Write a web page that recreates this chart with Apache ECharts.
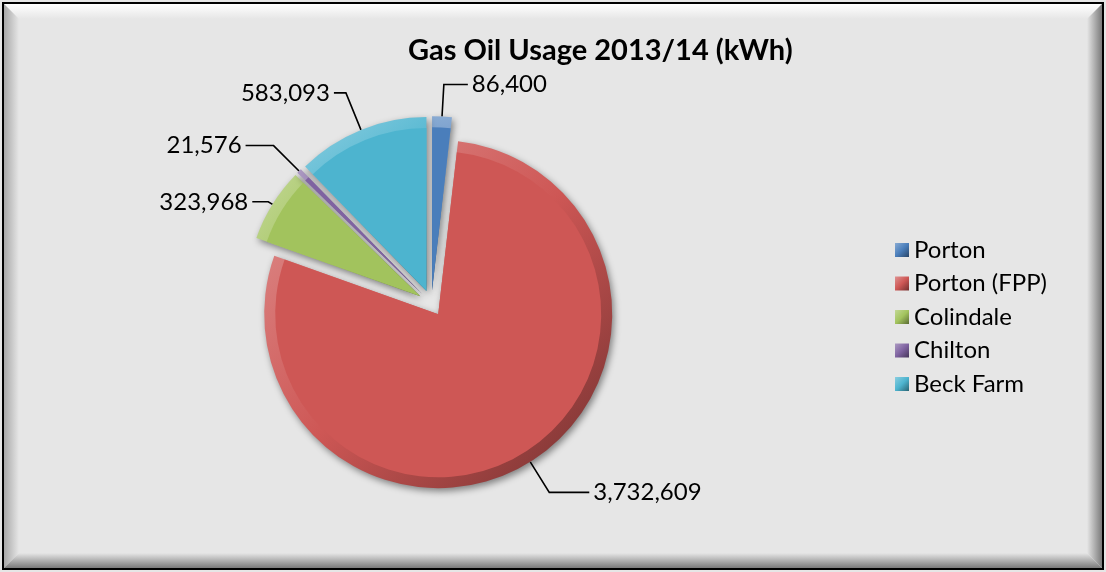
<!DOCTYPE html>
<html>
<head>
<meta charset="utf-8">
<script src="https://cdn.jsdelivr.net/npm/echarts@6/dist/echarts.min.js"></script>
<style>
  html, body { margin: 0; padding: 0; background: #ffffff; }
  #chart { width: 1106px; height: 572px; }
</style>
</head>
<body>
<div id="chart"></div>
<script>
// Gas oil usage by site, 2013/14 (kWh)
const sites = ['Porton', 'Porton (FPP)', 'Colindale', 'Chilton', 'Beck Farm'];
const usageKWh = [86400, 3732609, 323968, 21576, 583093];
const siteColors = ['#4a7ebb', '#ce5755', '#a2c35d', '#7f63a1', '#4db4cf'];

// Label leader line lengths per site (radial part, horizontal part)
const leaderLengths = {
  'Porton': [32, 24],
  'Porton (FPP)': [36, 40],
  'Colindale': [5, 16],
  'Chilton': [36, 28],
  'Beck Farm': [40, 12]
};

function shade(hex, amt) {
  const n = parseInt(hex.slice(1), 16);
  let r = (n >> 16) & 255, g = (n >> 8) & 255, b = n & 255;
  const f = c => amt >= 0 ? Math.round(c + (255 - c) * amt) : Math.round(c * (1 + amt));
  return 'rgb(' + f(r) + ',' + f(g) + ',' + f(b) + ')';
}

const fmt = v => v.toLocaleString('en-GB');

const FONT = 'Lato';
const centre = ['39%', '53%'];
const R = 174;
const explode = 13;

// Face of each slice (flat colour)
const faceData = sites.map((name, i) => ({
  name: name,
  value: usageKWh[i],
  selected: true,
  itemStyle: { color: siteColors[i] }
}));

// Bevelled rim of each slice (light top-left to dark bottom-right)
const rimData = sites.map((name, i) => ({
  name: name,
  value: usageKWh[i],
  selected: true,
  itemStyle: {
    color: new echarts.graphic.LinearGradient(0, 0, 1, 1, [
      { offset: 0, color: shade(siteColors[i], 0.35) },
      { offset: 0.5, color: siteColors[i] },
      { offset: 1, color: shade(siteColors[i], -0.45) }
    ])
  },
  labelLine: { length: leaderLengths[name][0], length2: leaderLengths[name][1] }
}));

const W = 1106, H = 572, B = 15;

const option = {
  backgroundColor: '#e6e6e6',
  animation: false,
  title: {
    text: 'Gas Oil Usage 2013/14 (kWh)',
    left: 403,
    top: 31,
    textStyle: { fontFamily: FONT, fontWeight: 'bold', fontSize: 29, color: '#000' }
  },
  legend: {
    orient: 'vertical',
    left: 890,
    top: 233,
    icon: 'rect',
    itemWidth: 14,
    itemHeight: 14,
    itemGap: 9.5,
    selectedMode: false,
    data: sites,
    textStyle: { fontFamily: FONT, fontSize: 24, color: '#000', lineHeight: 24 }
  },
  graphic: [
    { type: 'polygon', z: -1, silent: true,
      shape: { points: [[4, 4], [W - 4, 4], [W - 4 - B, 4 + B], [4 + B, 4 + B]] },
      style: { fill: new echarts.graphic.LinearGradient(0, 0, 0, 1, [
        { offset: 0, color: '#ffffff' }, { offset: 1, color: '#e6e6e6' }]) } },
    { type: 'polygon', z: -1, silent: true,
      shape: { points: [[4, 4], [4 + B, 4 + B], [4 + B, H - 4 - B], [4, H - 4]] },
      style: { fill: new echarts.graphic.LinearGradient(0, 0, 1, 0, [
        { offset: 0, color: '#a8a8a8' }, { offset: 1, color: '#e6e6e6' }]) } },
    { type: 'polygon', z: -1, silent: true,
      shape: { points: [[4, H - 4], [4 + B, H - 4 - B], [W - 4 - B, H - 4 - B], [W - 4, H - 4]] },
      style: { fill: new echarts.graphic.LinearGradient(0, 0, 0, 1, [
        { offset: 0, color: '#e6e6e6' }, { offset: 1, color: '#7a7a7a' }]) } },
    { type: 'polygon', z: -1, silent: true,
      shape: { points: [[W - 4, 4], [W - 4 - B, 4 + B], [W - 4 - B, H - 4 - B], [W - 4, H - 4]] },
      style: { fill: new echarts.graphic.LinearGradient(0, 0, 1, 0, [
        { offset: 0, color: '#e6e6e6' }, { offset: 1, color: '#7a7a7a' }]) } },
    { type: 'rect', z: 100, silent: true,
      shape: { x: 3, y: 3, width: W - 6, height: H - 6 },
      style: { fill: 'none', stroke: '#000', lineWidth: 2 } }
  ],
  series: [
    {
      name: 'rim',
      type: 'pie',
      z: 2,
      center: centre,
      radius: [0, R],
      startAngle: 90,
      clockwise: true,
      selectedMode: 'multiple',
      selectedOffset: explode,
      avoidLabelOverlap: false,
      data: rimData,
      itemStyle: {
        shadowBlur: 7,
        shadowColor: 'rgba(0,0,0,0.45)',
        shadowOffsetX: 2,
        shadowOffsetY: 3
      },
      label: {
        show: true,
        position: 'outside',
        formatter: p => fmt(p.value),
        fontFamily: FONT,
        fontSize: 24,
        color: '#000',
        distanceToLabelLine: 4
      },
      labelLine: {
        show: true,
        lineStyle: { color: '#000', width: 1.6 }
      },
      emphasis: { disabled: true }
    },
    {
      name: 'face',
      type: 'pie',
      z: 3,
      silent: true,
      center: centre,
      radius: [0, R - 11],
      startAngle: 90,
      clockwise: true,
      selectedMode: 'multiple',
      selectedOffset: explode,
      data: faceData,
      label: { show: false },
      labelLine: { show: false },
      emphasis: { disabled: true }
    }
  ]
};

const chart = echarts.init(document.getElementById('chart'), null, { renderer: 'canvas' });
chart.setOption(option);
</script>
</body>
</html>
